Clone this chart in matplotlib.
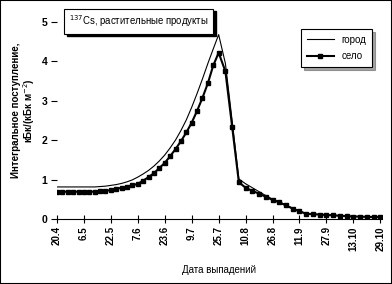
import matplotlib.pyplot as plt
import numpy as np
from matplotlib.patches import Rectangle

plt.rcParams['font.family'] = ['Liberation Sans', 'DejaVu Sans']

tick_labels = ['20.4', '6.5', '22.5', '7.6', '23.6', '9.7', '25.7',
               '10.8', '26.8', '11.9', '27.9', '13.10', '29.10']

# days since 20.4: every 3.2 days up to the peak, then every 4 days
days = np.concatenate([np.linspace(0, 96, 31), np.linspace(100, 192, 24)])

selo = [0.70, 0.70, 0.70, 0.70, 0.70, 0.70, 0.70, 0.70, 0.71, 0.72,
        0.74, 0.77, 0.80, 0.83, 0.86, 0.90, 0.98, 1.07, 1.17, 1.30,
        1.43, 1.60, 1.78, 1.98, 2.20, 2.45, 2.75, 3.08, 3.45, 3.90,
        4.22,
        3.75, 2.35, 0.94, 0.80, 0.72, 0.65, 0.57, 0.49, 0.43, 0.35,
        0.27, 0.20, 0.14, 0.13, 0.12, 0.11, 0.10, 0.09, 0.08, 0.07,
        0.07, 0.06, 0.06, 0.06]

gorod = [0.82, 0.82, 0.82, 0.82, 0.82, 0.82, 0.82, 0.82, 0.83, 0.84,
         0.86, 0.88, 0.91, 0.95, 1.00, 1.07, 1.15, 1.24, 1.35, 1.48,
         1.63, 1.81, 2.01, 2.25, 2.52, 2.84, 3.19, 3.56, 3.95, 4.32,
         4.68,
         3.95, 2.50, 1.02, 0.90, 0.80, 0.70, 0.60, 0.51, 0.44, 0.36,
         0.28, 0.21, 0.15, 0.13, 0.12, 0.11, 0.10, 0.09, 0.08, 0.07,
         0.07, 0.06, 0.06, 0.06]

title_text = '$^{137}$Cs, растительные продукты'

fig = plt.figure(figsize=(3.92, 2.84), dpi=100)
ax = fig.add_axes([57 / 392, 1 - 219.3 / 284, 325 / 392, 197.3 / 284])

ax.plot(days, gorod, '-', color='black', lw=0.8, label='город')
ax.plot(days, selo, '-', color='black', lw=1.5, marker='s', ms=3.2,
        label='село')

ax.set_xlim(0, 193)
ax.set_ylim(0, 5)
ax.set_xticks(np.arange(0, 193, 16))
ax.set_xticklabels(tick_labels, rotation=90, fontsize=7, fontweight='bold')
ax.set_yticks(range(6))
ax.set_yticklabels([str(v) for v in range(6)], fontsize=7.5, fontweight='bold')
ax.tick_params(axis='x', direction='inout', length=6, width=0.8, pad=2)
ax.tick_params(axis='y', direction='out', length=4, width=0.8, pad=3)
for s in ['left', 'top', 'right']:
    ax.spines[s].set_visible(False)
ax.spines['bottom'].set_linewidth(0.8)

ax.set_xlabel('Дата выпадений', fontsize=7, labelpad=10)
fig.text(0.040, 0.61, 'Интегральное поступление,', rotation=90,
         fontsize=7, fontweight='bold', ha='center', va='center')
fig.text(0.074, 0.61, 'кБк/(кБк м$^{-2}$)', rotation=90,
         fontsize=7, fontweight='bold', ha='center', va='center')

# title box with a drop shadow
title = fig.text(0.176, 0.925, title_text, fontsize=6.9, ha='left',
                 va='center', zorder=5,
                 bbox=dict(boxstyle='square,pad=0.5', fc='white',
                           ec='black', lw=0.8))
fig.canvas.draw()
bb = title.get_bbox_patch().get_window_extent().transformed(
    fig.transFigure.inverted())
dx, dy = 2.5 / 392, 2.5 / 284
fig.patches.append(Rectangle((bb.x0 + dx, bb.y0 - dy), bb.width, bb.height,
                             transform=fig.transFigure, fc='black',
                             ec='black', zorder=4))

leg = ax.legend(loc='upper right', bbox_to_anchor=(0.985, 0.99), fontsize=7,
                frameon=True, fancybox=False, shadow=True, handlelength=2.8,
                borderpad=0.6, labelspacing=0.7)
leg.get_frame().set_edgecolor('black')
leg.get_frame().set_linewidth(0.8)

fig.patches.append(Rectangle((0, 0), 1, 1, transform=fig.transFigure,
                             fill=False, ec='black', lw=1.5))

fig.savefig('out.png', dpi=100)
